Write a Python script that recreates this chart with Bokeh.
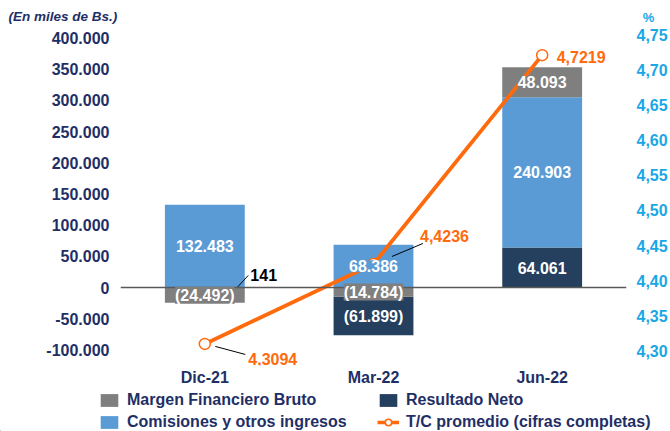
from bokeh.plotting import figure
from bokeh.layouts import column
from bokeh.models import (FactorRange, Range1d, LinearAxis, FixedTicker, ColumnDataSource,
                          LabelSet, Legend, LegendItem, Span)
from bokeh.core.properties import value
from bokeh.embed import file_html
from bokeh.resources import INLINE

# ---------------- data ----------------
categories = ["Dic-21", "Mar-22", "Jun-22"]
margen_financiero = [-24492, -14784, 48093]
comisiones = [132483, 68386, 240903]
resultado_neto = [141, -61899, 64061]
tc_promedio = [4.3094, 4.4236, 4.7219]
left_ticks = [-100000, -50000, 0, 50000, 100000, 150000, 200000, 250000, 300000, 350000, 400000]
right_ticks = [4.30, 4.35, 4.40, 4.45, 4.50, 4.55, 4.60, 4.65, 4.70, 4.75]
series_names = ["Margen Financiero Bruto", "Resultado Neto",
                "Comisiones y otros ingresos", "T/C promedio (cifras completas)"]

# ---------------- style ----------------
NAVY = "#1F2F66"
CYAN = "#1AA7E6"
ORANGE = "#FF6A0D"
GRAY = "#7F7F7F"
BLUE = "#5B9BD5"
DARK = "#253F5E"
FONT = "Liberation Sans"
FS = "16px"
W = 670

def fmt_miles(v):
    s = f"{abs(v):,}".replace(",", ".")
    return f"({s})" if v < 0 else s

def fmt_dec(v, nd):
    return f"{v:.{nd}f}".replace(".", ",")

def bare(fig):
    fig.outline_line_color = None
    fig.xgrid.visible = False
    fig.ygrid.visible = False
    fig.background_fill_color = "white"
    fig.border_fill_color = "white"
    try:
        fig.frame_align = False
    except Exception:
        pass
    return fig

# stacking (positives: resultado, comisiones, margen; negatives: margen, resultado)
series = {"margen": margen_financiero, "comisiones": comisiones, "resultado": resultado_neto}
pos_order = ["resultado", "comisiones", "margen"]
neg_order = ["margen", "resultado"]
bottoms = {k: [0] * len(categories) for k in series}
tops = {k: [0] * len(categories) for k in series}
for i in range(len(categories)):
    acc = 0
    for k in pos_order:
        v = series[k][i]
        if v >= 0:
            bottoms[k][i], tops[k][i] = acc, acc + v
            acc += v
    acc = 0
    for k in neg_order:
        v = series[k][i]
        if v < 0:
            bottoms[k][i], tops[k][i] = acc, acc + v
            acc += v

# ---------------- header ----------------
HH = 25
header = bare(figure(width=W, height=HH, x_range=Range1d(0, W), y_range=Range1d(0, HH),
                     x_axis_type=None, y_axis_type=None, output_backend="svg",
                     toolbar_location=None, min_border=0))
header.text(x=[8], y=[HH - 16], text=["(En miles de Bs.)"], text_font=value(FONT),
            text_font_style="bold italic", text_font_size="13.5px", text_color=NAVY,
            text_align="left", text_baseline="middle")
header.text(x=[648], y=[HH - 17], text=["%"], text_font=value(FONT),
            text_font_style="bold", text_font_size="13px", text_color=CYAN,
            text_align="center", text_baseline="middle")

# ---------------- main chart ----------------
TOP = 30 - HH
MH = 365 - HH + 23
p = bare(figure(width=W, height=MH, x_range=FactorRange(*categories),
                y_range=Range1d(-125000, 411859), output_backend="svg", toolbar_location=None,
                min_border_left=120, min_border_right=43, min_border_top=TOP, min_border_bottom=23))
p.extra_y_ranges = {"tc": Range1d(4.2786, 4.7571)}

BAR_W = 80 / 169
colors = {"margen": GRAY, "comisiones": BLUE, "resultado": DARK}
for k in ["resultado", "comisiones", "margen"]:
    src = ColumnDataSource(dict(cat=categories, top=tops[k], bottom=bottoms[k]))
    p.vbar(x="cat", top="top", bottom="bottom", width=BAR_W, source=src,
           fill_color=colors[k], line_color=None)

p.add_layout(Span(location=0, dimension="width", line_color="#595959", line_width=1.5))

# T/C line
tc_src = ColumnDataSource(dict(cat=categories, tc=tc_promedio,
                               txt=[fmt_dec(v, 4) for v in tc_promedio],
                               xo=[43.5, 46.5, 14.5], yo=[-15.5, 27.5, -2]))
p.line(x="cat", y="tc", source=tc_src, y_range_name="tc", line_color=ORANGE, line_width=3.8)
p.scatter(x="cat", y="tc", source=tc_src, y_range_name="tc", size=11, marker="circle",
          fill_color="white", line_color=ORANGE, line_width=1.5)

# leader lines (offsets in px converted to data units)
PX_X = 1 / 169.0
PX_TC = 1 / 700.0
PX_Y = 1 / 0.000624
lead_tc = {"Dic-21": ((10.5, -2.5), (40.5, -10.5)), "Mar-22": ((18.5, 7.5), (49.5, 20.5))}
x0s, y0s, x1s, y1s = [], [], [], []
for c, ((ax, ay), (bx, by)) in lead_tc.items():
    i = categories.index(c)
    x0s.append(i + 0.5 + ax * PX_X); y0s.append(tc_promedio[i] + ay * PX_TC)
    x1s.append(i + 0.5 + bx * PX_X); y1s.append(tc_promedio[i] + by * PX_TC)
p.segment(x0=x0s, y0=y0s, x1=x1s, y1=y1s, y_range_name="tc", line_color="black", line_width=1)

# small value callout (Resultado Neto Dic-21)
small_idx = [i for i, v in enumerate(resultado_neto) if abs(v) < 5000]
for i in small_idx:
    p.segment(x0=[i + 0.5 + 32.5 * PX_X], y0=[resultado_neto[i]],
              x1=[i + 0.5 + 43.5 * PX_X], y1=[resultado_neto[i] + 12 * PX_Y],
              line_color="black", line_width=1)
call_src = ColumnDataSource(dict(cat=[categories[i] for i in small_idx],
                                 y=[resultado_neto[i] for i in small_idx],
                                 txt=[fmt_miles(resultado_neto[i]) for i in small_idx]))
p.add_layout(LabelSet(x="cat", y="y", text="txt", source=call_src, x_offset=45.5, y_offset=12,
                      text_font=value(FONT), text_font_style="bold", text_font_size=FS,
                      text_color="black", text_align="left", text_baseline="middle"))

# bar labels
for k in ["resultado", "comisiones", "margen"]:
    idx = [i for i in range(len(categories)) if abs(series[k][i]) >= 5000]
    src = ColumnDataSource(dict(cat=[categories[i] for i in idx],
                                mid=[(tops[k][i] + bottoms[k][i]) / 2 for i in idx],
                                txt=[fmt_miles(series[k][i]) for i in idx]))
    p.add_layout(LabelSet(x="cat", y="mid", text="txt", source=src,
                          text_font=value(FONT), text_font_style="bold", text_font_size=FS,
                          text_color="white", text_align="center", text_baseline="middle",
                          background_fill_color=colors[k]))

p.add_layout(LabelSet(x="cat", y="tc", text="txt", source=tc_src, y_range_name="tc",
                      x_offset="xo", y_offset="yo",
                      text_font=value(FONT), text_font_style="bold", text_font_size=FS,
                      text_color=ORANGE, text_align="left", text_baseline="middle"))

# axes
xa = p.xaxis[0]
xa.axis_line_color = None
xa.major_tick_line_color = None
xa.minor_tick_line_color = None
xa.major_tick_out = 0
xa.major_label_standoff = 3
xa.major_label_text_font = FONT
xa.major_label_text_font_style = "bold"
xa.major_label_text_font_size = FS
xa.major_label_text_color = NAVY

ya = p.yaxis[0]
ya.ticker = FixedTicker(ticks=left_ticks)
ya.major_label_overrides = {t: fmt_miles(t) if t >= 0 else "-" + fmt_miles(-t) for t in left_ticks}
ya.axis_line_color = None
ya.major_tick_line_color = None
ya.minor_tick_line_color = None
ya.major_tick_out = 0
ya.major_label_standoff = 11
ya.major_label_text_font = FONT
ya.major_label_text_font_style = "bold"
ya.major_label_text_font_size = FS
ya.major_label_text_color = NAVY

ra = LinearAxis(y_range_name="tc", ticker=FixedTicker(ticks=right_ticks))
ra.major_label_overrides = {t: fmt_dec(t, 2) for t in right_ticks}
ra.axis_line_color = None
ra.major_tick_line_color = None
ra.minor_tick_line_color = None
ra.major_tick_out = 0
ra.major_label_standoff = 10
ra.major_label_text_font = FONT
ra.major_label_text_font_style = "bold"
ra.major_label_text_font_size = FS
ra.major_label_text_color = CYAN
p.add_layout(ra, "right")

# ---------------- legend strip ----------------
LH = 431 - HH - MH
lg = bare(figure(width=W, height=LH, x_range=Range1d(0, W), y_range=Range1d(0, LH),
                 x_axis_type=None, y_axis_type=None, output_backend="svg",
                 toolbar_location=None, min_border=0))
g_margen = lg.vbar(x=[-100], top=[1], width=1, fill_color=GRAY, line_color=None)
g_res = lg.vbar(x=[-100], top=[1], width=1, fill_color=DARK, line_color=None)
g_com = lg.vbar(x=[-100], top=[1], width=1, fill_color=BLUE, line_color=None)
g_line = lg.line(x=[-120, -110], y=[1, 1], line_color=ORANGE, line_width=3.5)
g_pt = lg.scatter(x=[-100], y=[1], size=11, marker="circle", fill_color="white",
                  line_color=ORANGE, line_width=1.5)
leg_style = dict(orientation="vertical", padding=0, margin=0, spacing=4, label_standoff=7,
                 glyph_width=22, glyph_height=16, label_height=16,
                 label_text_font=FONT, label_text_font_style="bold", label_text_font_size=FS,
                 label_text_color=NAVY, border_line_color=None, background_fill_alpha=0)
leg1 = Legend(items=[LegendItem(label=series_names[0], renderers=[g_margen]),
                     LegendItem(label=series_names[2], renderers=[g_com])],
              location=(98, 0), **leg_style)
leg2 = Legend(items=[LegendItem(label=series_names[1], renderers=[g_res]),
                     LegendItem(label=series_names[3], renderers=[g_line, g_pt])],
              location=(377, 0), **leg_style)
lg.add_layout(leg1)
lg.add_layout(leg2)

layout = column(header, p, lg, spacing=0)
open("out.html", "w").write(file_html(layout, INLINE))
